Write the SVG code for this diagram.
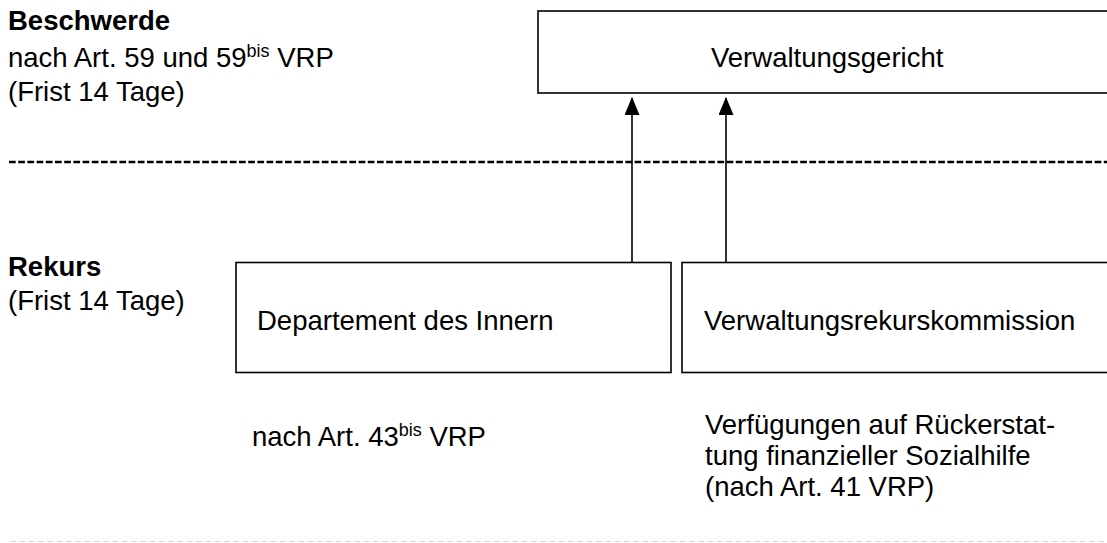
<svg xmlns="http://www.w3.org/2000/svg" width="1107" height="543" viewBox="0 0 1107 543">
<style>
text{font-family:"Liberation Sans",Arial,sans-serif;font-size:27.5px;fill:#000}
.b{font-weight:bold}
.sup{font-size:18px}
.box{fill:#fff;stroke:#000;stroke-width:1.6}
.conn{stroke:#000;stroke-width:1.6;fill:none}
</style>
<defs>
<marker id="ah" markerUnits="userSpaceOnUse" markerWidth="18" markerHeight="15" refX="17" refY="7.5" orient="auto" viewBox="0 0 18 15">
<path d="M0,0 L18,7.5 L0,15 Z" fill="#000"/>
</marker>
</defs>
<rect width="1107" height="543" fill="#fff"/>
<g id="labels">
<text class="b" x="8" y="30">Beschwerde</text>
<text x="8" y="67">nach Art. 59 und 59<tspan class="sup" dy="-10">bis</tspan><tspan dy="10"> VRP</tspan></text>
<text x="8" y="101">(Frist 14 Tage)</text>
<text class="b" x="8" y="276">Rekurs</text>
<text x="8" y="310">(Frist 14 Tage)</text>
<text x="252" y="446">nach Art. 43<tspan class="sup" dy="-10">bis</tspan><tspan dy="10"> VRP</tspan></text>
<text x="705" y="434">Verfügungen auf Rückerstat-</text>
<text x="705" y="465">tung finanzieller Sozialhilfe</text>
<text x="705" y="496">(nach Art. 41 VRP)</text>
</g>
<g id="separators">
<line x1="9" y1="162" x2="1107" y2="162" stroke="#000" stroke-width="2.5" stroke-dasharray="6.7 2.5"/>
<line x1="10" y1="541.5" x2="1107" y2="541.5" stroke="#d6d6d6" stroke-width="1.2" stroke-dasharray="6 3.3"/>
</g>
<g id="verwaltungsgericht">
<rect class="box" x="538" y="11" width="600" height="82"/>
<text x="711" y="67">Verwaltungsgericht</text>
</g>
<g id="departement">
<rect class="box" x="236" y="262.5" width="435" height="110"/>
<text x="257" y="330">Departement des Innern</text>
</g>
<g id="vrk">
<rect class="box" x="682" y="262.5" width="460" height="110"/>
<text x="704" y="330">Verwaltungsrekurskommission</text>
</g>
<g id="connectors">
<line class="conn" x1="632" y1="262" x2="632" y2="98" marker-end="url(#ah)"/>
<line class="conn" x1="726" y1="262" x2="726" y2="98" marker-end="url(#ah)"/>
</g>
</svg>
